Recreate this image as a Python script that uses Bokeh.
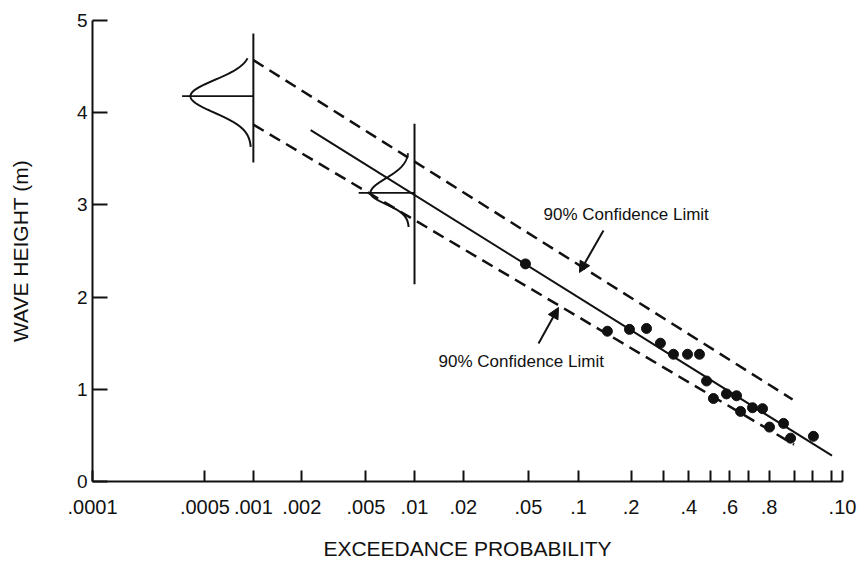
import numpy as np
from bokeh.plotting import figure
from bokeh.models import (Range1d, FixedTicker, CustomJSTickFormatter, Arrow,
                          NormalHead, Label)
from bokeh.embed import file_html
from bokeh.resources import INLINE

FONT = "Liberation Sans"
INK = "#111111"

# exceedance-probability axis (extreme-value probability paper)
tick_probs = [0.0001, 0.0005, 0.001, 0.002, 0.005, 0.01, 0.02, 0.05, 0.1, 0.2,
              0.3, 0.4, 0.5, 0.6, 0.7, 0.8, 0.9, 0.95, 0.98, 0.99]
tick_labels = [".0001", ".0005", ".001", ".002", ".005", ".01", ".02", ".05", ".1", ".2",
               "", ".4", "", ".6", "", ".8", "", "", "", ".10"]
height_ticks = [0, 1, 2, 3, 4, 5]

# observed wave heights (m) at their plotting positions
obs_prob = [0.048, 0.147, 0.196, 0.243, 0.288, 0.336, 0.394, 0.448, 0.482, 0.516,
            0.583, 0.636, 0.657, 0.719, 0.769, 0.802, 0.862, 0.888, 0.952]
obs_height = [2.36, 1.63, 1.65, 1.66, 1.50, 1.38, 1.38, 1.38, 1.09, 0.90,
              0.95, 0.93, 0.76, 0.80, 0.79, 0.59, 0.63, 0.47, 0.49]

# fitted distribution and its 90% confidence limits (end points)
fit_prob = [0.00227, 0.981]
fit_height = [3.81, 0.28]
upper_prob = [0.001, 0.895]
upper_height = [4.57, 0.89]
lower_prob = [0.001, 0.90]
lower_height = [3.87, 0.40]

# sampling distributions of the estimated height at two exceedance levels
dist_prob = [0.001, 0.01]
dist_mode = [4.18, 3.13]
dist_sigma_up = [0.174, 0.157]
dist_sigma_down = [0.18, 0.12]
dist_reach_up = [0.41, 0.43]
dist_reach_down = [0.55, 0.37]
dist_bar_top = [4.86, 3.88]
dist_bar_bottom = [3.46, 2.14]


def prob_x(q):
    """Reduced variate ln(-ln(1 - q)) used as the linear x coordinate."""
    return np.log(-np.log1p(-np.asarray(q, dtype=float)))


tick_x = [float(v) for v in prob_x(tick_probs)]

p = figure(width=858, height=562, output_backend="svg", toolbar_location=None,
           x_range=Range1d(tick_x[0], tick_x[-1]), y_range=Range1d(0, 5),
           min_border_left=92, min_border_right=16, min_border_top=20,
           min_border_bottom=81)
p.outline_line_color = None
p.xgrid.visible = False
p.ygrid.visible = False
p.background_fill_color = "white"
p.border_fill_color = "white"

# axes
p.xaxis.ticker = FixedTicker(ticks=tick_x, minor_ticks=[])
p.xaxis.formatter = CustomJSTickFormatter(args=dict(pos=tick_x, labels=tick_labels), code="""
    let best = 0;
    for (let i = 0; i < pos.length; i++) {
        if (Math.abs(pos[i] - tick) < Math.abs(pos[best] - tick)) best = i;
    }
    return labels[best];
""")
p.yaxis.ticker = FixedTicker(ticks=height_ticks, minor_ticks=[])
for ax in (p.xaxis[0], p.yaxis[0]):
    ax.axis_line_color = INK
    ax.axis_line_width = 2
    ax.major_tick_line_color = INK
    ax.major_tick_line_width = 2
    ax.major_tick_out = 0
    ax.minor_tick_line_color = None
    ax.major_label_text_font = FONT
    ax.major_label_text_color = INK
    ax.axis_label_text_font = FONT
    ax.axis_label_text_font_style = "normal"
    ax.axis_label_text_color = INK
p.xaxis.major_tick_in = 11
p.xaxis.major_label_standoff = 18
p.xaxis.major_label_text_font_size = "20px"
p.xaxis.axis_label = "EXCEEDANCE PROBABILITY"
p.xaxis.axis_label_text_font_size = "21px"
p.xaxis.axis_label_standoff = 20
p.yaxis.major_tick_in = 15
p.yaxis.major_label_standoff = 5
p.yaxis.major_label_text_font_size = "19px"
p.yaxis.axis_label = "WAVE HEIGHT (m)"
p.yaxis.axis_label_text_font_size = "21px"
p.yaxis.axis_label_standoff = 42

# fitted line and confidence limits
p.line(prob_x(fit_prob), fit_height, line_color=INK, line_width=2)
p.line(prob_x(upper_prob), upper_height, line_color=INK, line_width=2.5, line_dash="12 7")
p.line(prob_x(lower_prob), lower_height, line_color=INK, line_width=2.5, line_dash="12 7")

# observations
p.scatter(prob_x(obs_prob), obs_height, size=10, color=INK)

# sideways density sketches on vertical bars
curve_amp = [0.90, 0.63]     # peak depth, in reduced-variate units
curve_tail = [0.03, 0.08]    # gap left between tails and bar
stem_len = [1.02, 0.80]      # horizontal line from bar to mode
for q, mode, su, sd, ru, rd, top, bot, amp, tail, stem in zip(
        dist_prob, dist_mode, dist_sigma_up, dist_sigma_down, dist_reach_up,
        dist_reach_down, dist_bar_top, dist_bar_bottom, curve_amp, curve_tail, stem_len):
    x0 = float(prob_x(q))
    p.line([x0, x0], [bot, top], line_color=INK, line_width=2)
    p.line([x0 - stem, x0], [mode, mode], line_color=INK, line_width=1.8)
    d = np.linspace(-rd, ru, 240)
    s = np.where(d > 0, su, sd)
    xs = x0 - tail - (amp - tail) * np.exp(-0.5 * (d / s) ** 2)
    p.line(xs, mode + d, line_color=INK, line_width=2)

# confidence-limit callouts
head = dict(size=11, fill_color=INK, line_color=INK, line_width=1)
p.add_layout(Arrow(end=NormalHead(**head), line_color=INK, line_width=2,
                   x_start=float(prob_x(0.1396)), y_start=2.722,
                   x_end=float(prob_x(0.1011)), y_end=2.267))
p.add_layout(Arrow(end=NormalHead(**head), line_color=INK, line_width=2,
                   x_start=float(prob_x(0.0576)), y_start=1.497,
                   x_end=float(prob_x(0.0759)), y_end=1.887))
p.add_layout(Label(x=float(prob_x(0.0617)), y=2.896, text="90% Confidence Limit",
                   text_font=FONT, text_font_size="17px", text_color=INK,
                   text_baseline="middle"))
p.add_layout(Label(x=float(prob_x(0.01408)), y=1.301, text="90% Confidence Limit",
                   text_font=FONT, text_font_size="17px", text_color=INK,
                   text_baseline="middle"))

open("out.html", "w").write(file_html(p, INLINE))
